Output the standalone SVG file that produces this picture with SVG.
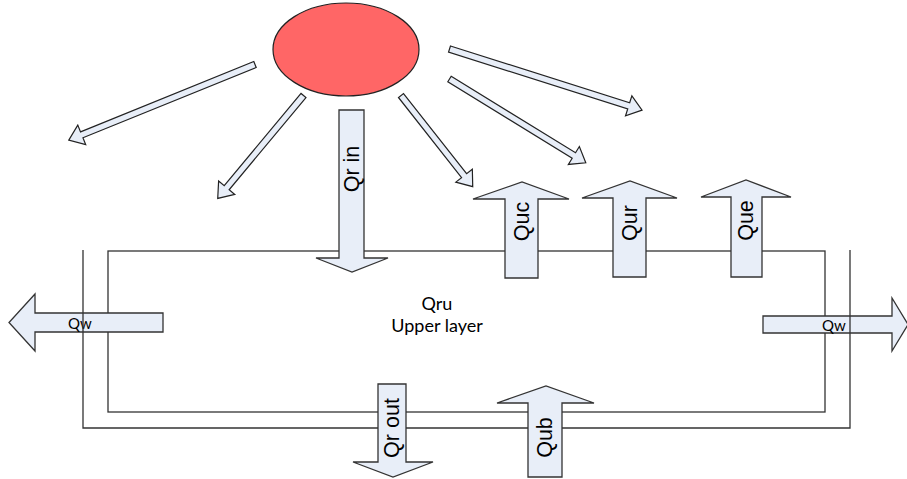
<svg xmlns="http://www.w3.org/2000/svg" width="907" height="479" viewBox="0 0 907 479">
<style>
.blk{fill:#E8EEF8;stroke:#222;stroke-width:1.2;stroke-linejoin:miter}
.big{fill:#E8EEF8;stroke:#333;stroke-width:1.3}
.ln{fill:none;stroke:#333;stroke-width:1.3}
.vt{font-family:"Liberation Sans",Arial,sans-serif;font-size:21.5px;fill:#000;text-anchor:middle;dominant-baseline:central}
.lt{font-family:Lato,"Liberation Sans",sans-serif;fill:#000;text-anchor:middle;dominant-baseline:central}
.qw{font-size:15px}
.qru{font-size:18px}
</style>
<rect width="907" height="479" fill="#fff"/>
<g id="layer-box">
<rect class="ln" x="108" y="251" width="717" height="161"/>
</g>
<g id="sun">
<ellipse cx="346" cy="49.5" rx="73" ry="46.5" fill="#FF6666" stroke="#222" stroke-width="1.2"/>
</g>
<g id="connectors">
<path class="blk" transform="translate(255,64.5) rotate(157.9)" d="M0,-3.2 H187 V-10.5 L201,0 L187,10.5 V3.2 H0 Z"/>
<path class="blk" transform="translate(303.5,95.5) rotate(129.8)" d="M0,-3.2 H120 V-10.5 L134,0 L120,10.5 V3.2 H0 Z"/>
<path class="blk" transform="translate(401,95.5) rotate(51.8)" d="M0,-3.2 H102 V-10.5 L116,0 L102,10.5 V3.2 H0 Z"/>
<path class="blk" transform="translate(449.5,79) rotate(31.6)" d="M0,-3.2 H146 V-10.5 L160,0 L146,10.5 V3.2 H0 Z"/>
<path class="blk" transform="translate(449.5,49) rotate(17.6)" d="M0,-3.2 H188 V-10.5 L202,0 L188,10.5 V3.2 H0 Z"/>
</g>
<g id="qw-left">
<path class="big" d="M163,313 V332 H35 V351 L9,322.5 L35,294 V313 Z"/>
<text class="lt qw" x="80" y="322.5">Qw</text>
</g>
<g id="qw-right">
<path class="big" d="M763,316 V333 H892 V351 L908,324.5 L892,298 V316 Z"/>
<text class="lt qw" x="834" y="324.5">Qw</text>
</g>
<g id="outer-box">
<path class="ln" d="M83,250 V428 H850 V250"/>
</g>
<g id="qr-in">
<path class="big" d="M339,110 H364 V258 H388 L352,272 L316,258 H339 Z"/>
<text class="vt" transform="translate(352,169) rotate(-90)">Qr in</text>
</g>
<g id="qr-out">
<path class="big" d="M378,384 H406 V462 H433 L393,477 L353,462 H378 Z"/>
<text class="vt" transform="translate(392,428) rotate(-90)">Qr out</text>
</g>
<g id="quc">
<path class="big" d="M505,278 V199 H473 L522,182 L569,199 H538 V278 Z"/>
<text class="vt" transform="translate(522,221.5) rotate(-90)">Quc</text>
</g>
<g id="qur">
<path class="big" d="M613,277 V198 H582 L630,181 L677,198 H646 V277 Z"/>
<text class="vt" transform="translate(630,223) rotate(-90)">Qur</text>
</g>
<g id="que">
<path class="big" d="M731,277 V197 H701 L746,180 L791,197 H762 V277 Z"/>
<text class="vt" transform="translate(746,220.5) rotate(-90)">Que</text>
</g>
<g id="qub">
<path class="big" d="M528,477 V403 H497 L546,386 L594,403 H562 V477 Z"/>
<text class="vt" transform="translate(545,437.5) rotate(-90)">Qub</text>
</g>
<g id="qru-label">
<text class="lt qru" x="437" y="303">Qru</text>
<text class="lt qru" x="437" y="325">Upper layer</text>
</g>
</svg>
